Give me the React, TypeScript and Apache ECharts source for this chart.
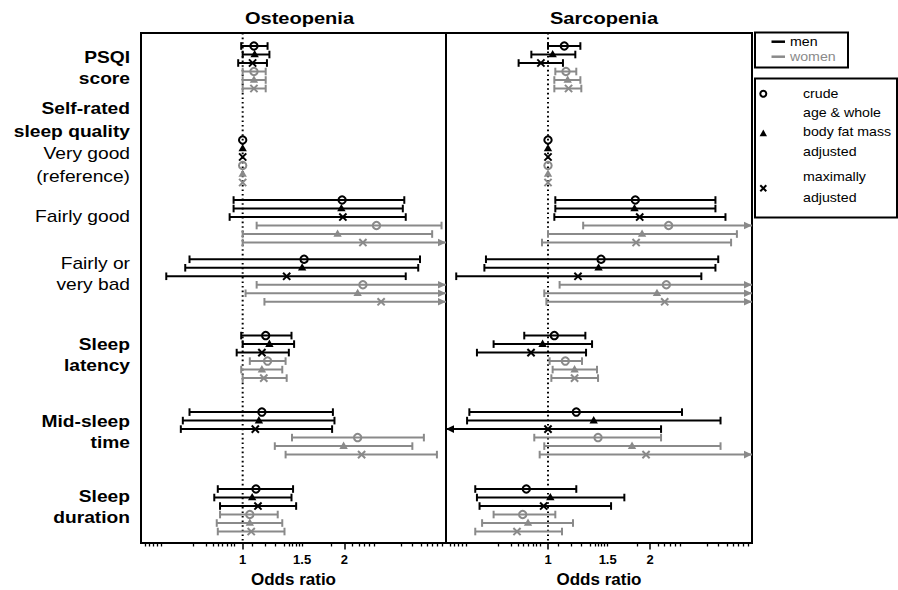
import React, { useEffect, useRef } from "react";
import * as echarts from "echarts";

// ---------- axis constants ----------
const AXIS_MIN = 0.5;
const AXIS_MAX = 4;
const OUT_LO = 0; // CI bound below the axis (left arrow)
const OUT_HI = Infinity; // CI bound beyond the axis (right arrow)
const ROW_MIN = 0;
const ROW_MAX = 60;

const xLabelValues = [1, 1.5, 2];
const majorTickValues = [1, 2];
const minorTickValues = [
  0.515, 0.53, 0.545, 0.56, 0.575,
  0.712, 0.778, 0.816, 0.844, 0.873, 0.903, 0.922, 0.947,
  1.07, 1.17, 1.25, 1.33, 1.375, 1.405, 1.44, 1.47, 1.5,
  1.83, 2.11, 2.21, 2.29, 2.37, 2.45,
  2.95, 3.18, 3.37, 3.51, 3.64, 3.76, 3.89,
];

// ---------- categories ----------
const panelTitles = ["Osteopenia", "Sarcopenia"];
const groupNames = ["PSQI score", "Very good (reference)", "Fairly good", "Fairly or very bad", "Sleep latency", "Mid-sleep time", "Sleep duration"];
const groupRowStart = [1.53, 12.59, 19.65, 26.62, 35.6, 44.6, 53.65];
const sexes = ["men", "women"];
const models = ["crude", "age & whole body fat mass adjusted", "maximally adjusted"];

// [odds ratio, lower CI, upper CI] per group
const REF: (number | null)[] = [1, null, null];

const osteoMenCrude = [[1.08, 0.99, 1.185], REF, [1.97, 0.94, 3.01], [1.52, 0.696, 3.35], [1.17, 0.99, 1.395], [1.14, 0.696, 1.85], [1.095, 0.844, 1.41]];
const osteoMenAdj = [[1.085, 1.0, 1.2], REF, [1.96, 0.94, 2.98], [1.5, 0.676, 3.31], [1.2, 1.0, 1.42], [1.117, 0.665, 1.87], [1.067, 0.824, 1.395]];
const osteoMenMax = [[1.07, 0.97, 1.18], REF, [1.98, 0.915, 3.04], [1.35, 0.594, 3.04], [1.14, 0.96, 1.37], [1.09, 0.656, 1.84], [1.11, 0.857, 1.44]];
const osteoWomenCrude = [[1.08, 1.0, 1.17], REF, [2.49, 1.1, 3.88], [2.27, 1.1, OUT_HI], [1.185, 1.05, 1.34], [2.19, 1.4, 3.44], [1.05, 0.857, 1.27]];
const osteoWomenAdj = [[1.08, 1.0, 1.17], REF, [1.91, 1.0, 3.64], [2.19, 1.02, OUT_HI], [1.14, 0.99, 1.31], [1.99, 1.245, 3.18], [1.05, 0.838, 1.31]];
const osteoWomenMax = [[1.08, 1.0, 1.17], REF, [2.27, 1.0, OUT_HI], [2.57, 1.16, OUT_HI], [1.155, 1.0, 1.35], [2.25, 1.34, 3.76], [1.06, 0.844, 1.33]];

const sarcoMenCrude = [[1.117, 1.0, 1.246], REF, [1.81, 1.051, 3.12], [1.434, 0.656, 3.18], [1.044, 0.851, 1.289], [1.212, 0.586, 2.486], [0.863, 0.61, 1.212]];
const sarcoMenAdj = [[1.032, 0.893, 1.204], REF, [1.8, 1.051, 3.12], [1.41, 0.649, 3.12], [0.964, 0.691, 1.349], [1.364, 0.577, 3.23], [1.016, 0.617, 1.68]];
const sarcoMenMax = [[0.953, 0.819, 1.107], REF, [1.865, 1.044, 3.34], [1.226, 0.536, 2.835], [0.891, 0.617, 1.295], [1.0, OUT_LO, 2.156], [0.971, 0.628, 1.535]];
const sarcoWomenCrude = [[1.13, 1.051, 1.212], REF, [2.27, 1.27, OUT_HI], [2.235, 1.082, OUT_HI], [1.125, 1.011, 1.26], [1.405, 0.911, 2.156], [0.842, 0.691, 1.051]];
const sarcoWomenAdj = [[1.143, 1.044, 1.246], REF, [1.895, 1.0, 3.61], [2.097, 0.975, OUT_HI], [1.198, 1.032, 1.395], [1.77, 0.975, 3.23], [0.873, 0.639, 1.185]];
const sarcoWomenMax = [[1.15, 1.044, 1.254], REF, [1.82, 0.96, 3.47], [2.21, 0.989, OUT_HI], [1.198, 1.023, 1.405], [1.947, 0.945, OUT_HI], [0.81, 0.61, 1.1]];

const panels = [
  [[osteoMenCrude, osteoMenAdj, osteoMenMax], [osteoWomenCrude, osteoWomenAdj, osteoWomenMax]],
  [[sarcoMenCrude, sarcoMenAdj, sarcoMenMax], [sarcoWomenCrude, sarcoWomenAdj, sarcoWomenMax]],
];

// ---------- styles ----------
const BLACK = "#000000";
const GRAY = "#8a8a8a";
const FONT = '"Liberation Sans", Arial, Helvetica, sans-serif';

function buildData(panel: any[][][]) {
  const out: number[][] = [];
  panel.forEach((sexSets, sex) => {
    sexSets.forEach((set, model) => {
      set.forEach((t: any[], g: number) => {
        const [est, lo, hi] = t;
        const hasCI = lo != null && hi != null;
        const y = groupRowStart[g] + sex * 3 + model;
        const aL = hasCI && lo < AXIS_MIN;
        const aR = hasCI && hi > AXIS_MAX;
        const dLo = hasCI ? Math.max(lo, AXIS_MIN) : est;
        const dHi = hasCI ? Math.min(hi, AXIS_MAX) : est;
        out.push([est, dLo, dHi, y, sex, model, aL ? 1 : 0, aR ? 1 : 0, hasCI ? 1 : 0]);
      });
    });
  });
  return out;
}

function renderItem(params: any, api: any) {
  const est = api.value(0);
  const lo = api.value(1);
  const hi = api.value(2);
  const y = api.value(3);
  const sex = api.value(4);
  const model = api.value(5);
  const aL = api.value(6);
  const aR = api.value(7);
  const ci = api.value(8);
  const color = sex ? GRAY : BLACK;
  const pE = api.coord([est, y]);
  const cy = pE[1];
  const children: any[] = [];
  if (ci) {
    const xL = api.coord([lo, y])[0];
    const xH = api.coord([hi, y])[0];
    children.push({ type: "line", shape: { x1: xL, y1: cy, x2: xH, y2: cy }, style: { stroke: color, lineWidth: 2 } });
    if (aL) {
      children.push({ type: "polygon", shape: { points: [[xL, cy], [xL + 8, cy - 3.8], [xL + 8, cy + 3.8]] }, style: { fill: color } });
    } else {
      children.push({ type: "line", shape: { x1: xL, y1: cy - 3.8, x2: xL, y2: cy + 3.8 }, style: { stroke: color, lineWidth: 2 } });
    }
    if (aR) {
      children.push({ type: "polygon", shape: { points: [[xH, cy], [xH - 8, cy - 3.8], [xH - 8, cy + 3.8]] }, style: { fill: color } });
    } else {
      children.push({ type: "line", shape: { x1: xH, y1: cy - 3.8, x2: xH, y2: cy + 3.8 }, style: { stroke: color, lineWidth: 2 } });
    }
  }
  const x = pE[0];
  if (model === 0) {
    children.push({ type: "circle", shape: { cx: x, cy, r: 3.7 }, style: { fill: "none", stroke: color, lineWidth: 2 } });
  } else if (model === 1) {
    children.push({ type: "polygon", shape: { points: [[x, cy - 4.5], [x - 4.2, cy + 2.8], [x + 4.2, cy + 2.8]] }, style: { fill: color } });
  } else {
    children.push({ type: "line", shape: { x1: x - 3.6, y1: cy - 3.6, x2: x + 3.6, y2: cy + 3.6 }, style: { stroke: color, lineWidth: 2 } });
    children.push({ type: "line", shape: { x1: x - 3.6, y1: cy + 3.6, x2: x + 3.6, y2: cy - 3.6 }, style: { stroke: color, lineWidth: 2 } });
  }
  return { type: "group", children };
}

function text(str: string, x: number, baseline: number, size: number, bold: boolean, align: string, scaleX: number, color = BLACK) {
  return {
    type: "text",
    x,
    y: baseline - size * 0.345,
    scaleX,
    style: {
      text: str,
      fill: color,
      font: `${bold ? "bold " : ""}${size}px ${FONT}`,
      align,
      verticalAlign: "middle",
    },
  };
}

// row label lines: [text, baseline, bold]
const labelLines: [string, number, boolean][] = [
  ["PSQI", 63.3, true],
  ["score", 84.3, true],
  ["Self-rated", 114.3, true],
  ["sleep quality", 136.7, true],
  ["Very good", 159.3, false],
  ["(reference)", 181.7, false],
  ["Fairly good", 221.7, false],
  ["Fairly or", 269.3, false],
  ["very bad", 290.5, false],
  ["Sleep", 350, true],
  ["latency", 371, true],
  ["Mid-sleep", 426.7, true],
  ["time", 448.3, true],
  ["Sleep", 501.7, true],
  ["duration", 523.3, true],
];

export default function App() {
  const ref = useRef<HTMLDivElement>(null);
  useEffect(() => {
    document.body.style.margin = "0";
    const chart = echarts.init(ref.current!, null, { renderer: "svg" });
    const grids = [
      { left: 141, top: 33, width: 305, height: 510 },
      { left: 446, top: 33, width: 306, height: 510 },
    ];
    const xAxis: any[] = [];
    const yAxis: any[] = [];
    const series: any[] = [];
    grids.forEach((g, i) => {
      xAxis.push({
        type: "log",
        logBase: 10,
        gridIndex: i,
        min: AXIS_MIN,
        max: AXIS_MAX,
        position: "bottom",
        name: "Odds ratio",
        nameLocation: "middle",
        nameGap: 26,
        nameTextStyle: { fontSize: 17, fontWeight: "bold", color: BLACK, fontFamily: FONT },
        axisLine: { show: true, onZero: false, lineStyle: { color: BLACK, width: 2 } },
        axisTick: { show: true, customValues: minorTickValues, length: 3.5, lineStyle: { color: BLACK, width: 1.3 } },
        axisLabel: {
          show: true,
          customValues: xLabelValues,
          formatter: (v: number) => String(v),
          fontSize: 13,
          fontWeight: "bold",
          color: BLACK,
          fontFamily: FONT,
          margin: 10,
        },
        splitLine: { show: false },
        minorTick: { show: false },
        minorSplitLine: { show: false },
      });
      xAxis.push({
        type: "log",
        logBase: 10,
        gridIndex: i,
        min: AXIS_MIN,
        max: AXIS_MAX,
        position: "bottom",
        offset: 0,
        axisLine: { show: false, onZero: false },
        axisTick: { show: true, customValues: majorTickValues, length: 6.5, lineStyle: { color: BLACK, width: 1.5 } },
        axisLabel: { show: false },
        splitLine: { show: false },
        minorTick: { show: false },
      });
      yAxis.push({ type: "value", gridIndex: i, min: ROW_MIN, max: ROW_MAX, inverse: true, show: false, splitLine: { show: false } });
      series.push({
        type: "line",
        xAxisIndex: i * 2,
        yAxisIndex: i,
        data: [[1, ROW_MIN], [1, ROW_MAX]],
        symbol: "none",
        silent: true,
        lineStyle: { color: BLACK, width: 2, type: [1.6, 3] },
        z: 1,
      });
      series.push({
        type: "custom",
        name: panelTitles[i],
        xAxisIndex: i * 2,
        yAxisIndex: i,
        data: buildData(panels[i] as any),
        encode: { x: [0, 1, 2], y: 3 },
        renderItem,
        clip: false,
        z: 2,
      });
    });

    const graphics: any[] = [];
    graphics.push(text("Osteopenia", 299.5, 24.3, 17, true, "center", 1.18));
    graphics.push(text("Sarcopenia", 604, 24.3, 17, true, "center", 1.18));
    labelLines.forEach(([s, b, bold]) => graphics.push(text(s, 130, b, 16, bold, "right", 1.2)));

    // legend: sex
    graphics.push({ type: "rect", shape: { x: 755, y: 32.5, width: 93, height: 35 }, style: { fill: "none", stroke: BLACK, lineWidth: 2 } });
    graphics.push({ type: "line", shape: { x1: 771.5, y1: 41.7, x2: 785, y2: 41.7 }, style: { stroke: BLACK, lineWidth: 2.5 } });
    graphics.push({ type: "line", shape: { x1: 771.5, y1: 56.7, x2: 785, y2: 56.7 }, style: { stroke: GRAY, lineWidth: 2.5 } });
    graphics.push(text(sexes[0], 790, 46, 13.5, false, "left", 1.05));
    graphics.push(text(sexes[1], 790, 61, 13.5, false, "left", 1.05, GRAY));

    // legend: models
    graphics.push({ type: "rect", shape: { x: 755, y: 78.5, width: 142, height: 139 }, style: { fill: "none", stroke: BLACK, lineWidth: 2 } });
    graphics.push({ type: "circle", shape: { cx: 763.3, cy: 93.8, r: 3 }, style: { fill: "none", stroke: BLACK, lineWidth: 2 } });
    graphics.push(text("crude", 803, 98, 13.5, false, "left", 1.05));
    graphics.push({ type: "polygon", shape: { points: [[763.3, 129.5], [759.6, 136.3], [767, 136.3]] }, style: { fill: BLACK } });
    graphics.push(text("age & whole", 803, 116.5, 13.5, false, "left", 1.05));
    graphics.push(text("body fat mass", 803, 136, 13.5, false, "left", 1.05));
    graphics.push(text("adjusted", 803, 155.5, 13.5, false, "left", 1.05));
    graphics.push({ type: "line", shape: { x1: 760.3, y1: 185.3, x2: 766.3, y2: 191.3 }, style: { stroke: BLACK, lineWidth: 2 } });
    graphics.push({ type: "line", shape: { x1: 760.3, y1: 191.3, x2: 766.3, y2: 185.3 }, style: { stroke: BLACK, lineWidth: 2 } });
    graphics.push(text("maximally", 803, 181, 13.5, false, "left", 1.05));
    graphics.push(text("adjusted", 803, 202, 13.5, false, "left", 1.05));

    chart.setOption({
      animation: false,
      backgroundColor: "#ffffff",
      textStyle: { fontFamily: FONT },
      grid: grids.map((g) => ({
        ...g,
        show: true,
        borderColor: BLACK,
        borderWidth: 2,
        backgroundColor: "transparent",
        containLabel: false,
        outerBoundsMode: "none",
      })),
      xAxis,
      yAxis,
      series,
      graphic: graphics,
    });
    return () => chart.dispose();
  }, []);
  return <div ref={ref} style={{ width: 898, height: 590 }} />;
}
